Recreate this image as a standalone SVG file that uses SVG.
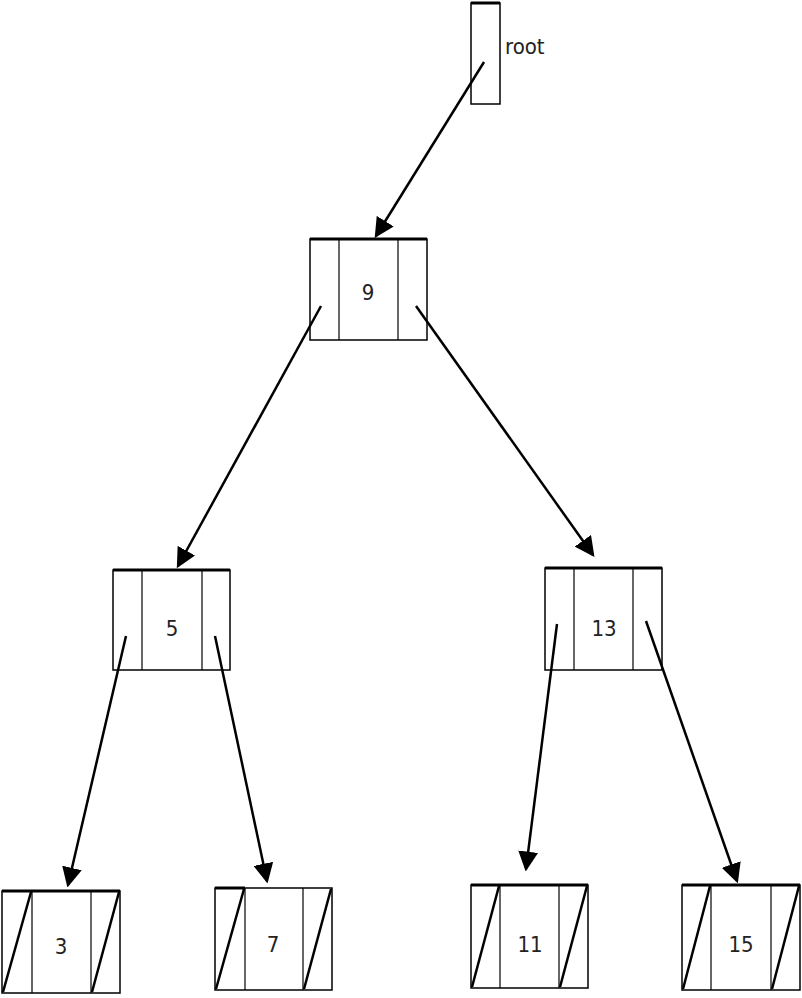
<svg xmlns="http://www.w3.org/2000/svg" width="802" height="998" viewBox="0 0 802 998">
<style>
.b{fill:#fff;stroke:#000;stroke-width:1.5}
.top{stroke:#000;stroke-width:3}
.d{stroke:#000;stroke-width:1.2}
.s{stroke:#000;stroke-width:2.5}
.t{font-family:"DejaVu Sans Condensed","DejaVu Sans",sans-serif;font-size:22px;fill:#222}
.c{stroke:#000;stroke-width:2.5;fill:none;marker-end:url(#a)}
</style>
<defs><marker id="a" markerWidth="8" markerHeight="8" refX="7" refY="4" orient="auto" markerUnits="strokeWidth"><path d="M0,0 L8,4 L0,8 Z"/></marker></defs>
<g id="root"><rect class="b" x="471" y="3" width="29" height="101"/><line class="top" x1="471" y1="3" x2="500" y2="3"/><text class="t" x="505" y="54">root</text></g>
<g id="n9"><rect class="b" x="310" y="239" width="117" height="101"/><line class="top" x1="310" y1="239" x2="427" y2="239"/><line class="d" x1="339" y1="239" x2="339" y2="340"/><line class="d" x1="398" y1="239" x2="398" y2="340"/><text class="t" x="368" y="300" text-anchor="middle">9</text></g>
<g id="n5"><rect class="b" x="113" y="570" width="117" height="100"/><line class="top" x1="113" y1="570" x2="230" y2="570"/><line class="d" x1="142" y1="570" x2="142" y2="670"/><line class="d" x1="202" y1="570" x2="202" y2="670"/><text class="t" x="172" y="636" text-anchor="middle">5</text></g>
<g id="n13"><rect class="b" x="545" y="568" width="117" height="102"/><line class="top" x1="545" y1="568" x2="662" y2="568"/><line class="d" x1="574" y1="568" x2="574" y2="670"/><line class="d" x1="633" y1="568" x2="633" y2="670"/><text class="t" x="604" y="636" text-anchor="middle">13</text></g>
<g id="n3"><rect class="b" x="2" y="891" width="118" height="102"/><line class="top" x1="2" y1="891" x2="120" y2="891"/><line class="d" x1="32" y1="891" x2="32" y2="993"/><line class="d" x1="91" y1="891" x2="91" y2="993"/><line class="s" x1="3" y1="992" x2="31" y2="892"/><line class="s" x1="92" y1="992" x2="119" y2="892"/><text class="t" x="61" y="954" text-anchor="middle">3</text></g>
<g id="n7"><rect class="b" x="215" y="888" width="117" height="102"/><line class="top" x1="215" y1="888" x2="245" y2="888"/><line class="d" x1="245" y1="888" x2="245" y2="990"/><line class="d" x1="303" y1="888" x2="303" y2="990"/><line class="s" x1="216" y1="989" x2="244" y2="889"/><line class="s" x1="304" y1="989" x2="331" y2="889"/><text class="t" x="273" y="952" text-anchor="middle">7</text></g>
<g id="n11"><rect class="b" x="471" y="885" width="117" height="103"/><line class="top" x1="471" y1="885" x2="588" y2="885"/><line class="d" x1="500" y1="885" x2="500" y2="988"/><line class="d" x1="559" y1="885" x2="559" y2="988"/><line class="s" x1="472" y1="987" x2="499" y2="886"/><line class="s" x1="560" y1="987" x2="587" y2="886"/><text class="t" x="530" y="952" text-anchor="middle">11</text></g>
<g id="n15"><rect class="b" x="682" y="885" width="118" height="105"/><line class="top" x1="682" y1="885" x2="800" y2="885"/><line class="d" x1="711" y1="885" x2="711" y2="990"/><line class="d" x1="771" y1="885" x2="771" y2="990"/><line class="s" x1="683" y1="989" x2="710" y2="886"/><line class="s" x1="772" y1="989" x2="799" y2="886"/><text class="t" x="741" y="952" text-anchor="middle">15</text></g>
<g id="connectors">
<line class="c" x1="484" y1="62" x2="376" y2="236"/>
<line class="c" x1="321" y1="306" x2="178" y2="566"/>
<line class="c" x1="416" y1="306" x2="593" y2="555"/>
<line class="c" x1="126" y1="636" x2="68" y2="885"/>
<line class="c" x1="215" y1="636" x2="267" y2="881"/>
<line class="c" x1="557" y1="624" x2="526" y2="869"/>
<line class="c" x1="646" y1="621" x2="737" y2="881"/>
</g>
</svg>
